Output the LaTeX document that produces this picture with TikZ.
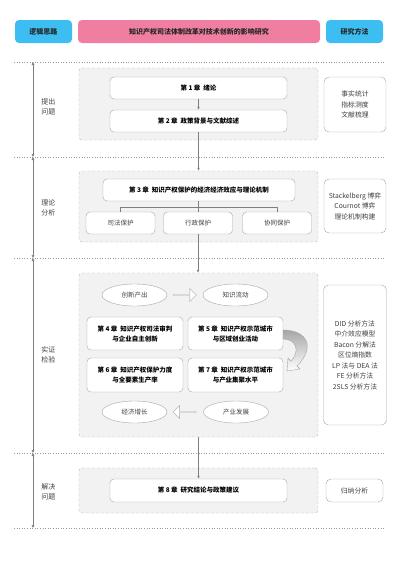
\documentclass[tikz,border=0pt]{standalone}
\usepackage{fontspec}
\setmainfont{Noto Sans CJK SC}
\usetikzlibrary{positioning,arrows.meta,shapes.arrows,shapes.geometric}
\definecolor{headblue}{HTML}{3DBEF2}
\definecolor{headpink}{HTML}{F07EA0}
\definecolor{zonegray}{HTML}{F2F2F2}
\definecolor{edgegray}{HTML}{A6A6A6}
\definecolor{linegray}{HTML}{7F7F7F}
\definecolor{textgray}{HTML}{404040}
\tikzset{
  headbox/.style={rounded corners=4pt,minimum height=23pt,inner sep=0pt,
    font=\fontsize{7}{8}\selectfont\bfseries,text=black!85},
  zone/.style={draw=edgegray!80,densely dashed,fill=zonegray,rounded corners=3pt,inner sep=0pt},
  chapbox/.style={draw=edgegray,fill=white,rounded corners=4pt,inner sep=0pt,align=center,
    font=\fontsize{6.5}{10}\selectfont\bfseries},
  subbox/.style={draw=edgegray,fill=white,rounded corners=4pt,inner sep=0pt,
    minimum width=69pt,minimum height=22pt,font=\fontsize{6.5}{8}\selectfont,text=textgray},
  methodbox/.style={draw=edgegray,fill=white,rounded corners=5pt,inner sep=0pt,align=center,
    font=\fontsize{6.8}{10.5}\selectfont,text=textgray},
  oval/.style={ellipse,draw=edgegray,fill=white,inner sep=0pt,minimum width=65pt,
    minimum height=22pt,font=\fontsize{6.5}{8}\selectfont,text=textgray},
  hollow/.style={single arrow,draw=edgegray,fill=white,inner sep=0pt,minimum height=23pt,
    minimum width=13pt,single arrow head extend=2.5pt},
  stagelabel/.style={align=center,font=\fontsize{7}{10}\selectfont,text=textgray},
  link/.style={draw=linegray,line width=0.5pt,-{Latex[length=3pt,width=2.5pt]}},
  plain/.style={draw=linegray,line width=0.5pt},
  dimarrow/.style={draw=linegray,line width=0.5pt,{Latex[length=3pt,width=3pt]}-{Latex[length=3pt,width=3pt]}},
  divider/.style={draw=linegray!80,dotted,line width=0.6pt}
}
\begin{document}
\begin{tikzpicture}[x=1pt,y=-1pt]
\useasboundingbox (0,0) rectangle (400,566);
% header
\node[headbox,fill=headblue,minimum width=57pt] (logic) at (43.5,31.5) {逻辑思路};
\node[headbox,fill=headpink,minimum width=242pt] (title) at (199,31.5) {知识产权司法体制改革对技术创新的影响研究};
\node[headbox,fill=headblue,minimum width=57pt] (method) at (354.5,31.5) {研究方法};
% dividers
\foreach \yy in {62,157,258,453,528}
  \draw[divider] (14,\yy) -- (385,\yy);
\coordinate (d0) at (33,62);
\coordinate (d1) at (33,157);
\coordinate (d2) at (33,258);
\coordinate (d3) at (33,453);
\coordinate (d4) at (33,528);
\draw[dimarrow] (d0) -- (d1);
\draw[dimarrow] (d1) -- (d2);
\draw[dimarrow] (d2) -- (d3);
\draw[dimarrow] (d3) -- (d4);
% stage labels
\node[stagelabel] (s1) at (48.5,107) {提出\\问题};
\node[stagelabel] (s2) at (48.5,208) {理论\\分析};
\node[stagelabel] (s3) at (48.5,355) {实证\\检验};
\node[stagelabel] (s4) at (48.5,492) {解决\\问题};
% zones
\node[zone,minimum width=239pt,minimum height=72pt] (zone1) at (198.5,104) {};
\node[zone,minimum width=239pt,minimum height=71pt] (zone2) at (198.5,206.5) {};
\node[zone,minimum width=239pt,minimum height=164pt] (zone3) at (198.5,355) {};
\node[zone,minimum width=239pt,minimum height=45pt] (zone4) at (198.5,490.5) {};
% stage 1
\node[chapbox,minimum width=177pt,minimum height=22pt] (ch1) at (198.5,88) {第 1 章\ \ 绪论};
\node[chapbox,minimum width=177pt,minimum height=22pt] (ch2) at (198.5,121) {第 2 章\ \ 政策背景与文献综述};
\node[methodbox,minimum width=62pt,minimum height=55pt] (m1) at (355,104.5) {事实统计\\指标测度\\文献梳理};
\draw[link] (ch1) -- (ch2);
% stage 2
\node[chapbox,minimum width=192pt,minimum height=22pt] (ch3) at (199,190) {第 3 章\ \ 知识产权保护的经济经济效应与理论机制};
\node[subbox] (sifa) at (120.5,223) {司法保护};
\node[subbox] (xingzheng) at (198,223) {行政保护};
\node[subbox] (xietong) at (277,223) {协同保护};
\node[methodbox,minimum width=62pt,minimum height=54pt] (m2) at (355,206) {Stackelberg 博弈\\Cournot 博弈\\理论机制构建};
\draw[link] (ch2) -- (zone2.north -| ch2.south);
\draw[plain] (ch3.south -| xingzheng.north) -- (xingzheng.north);
\draw[plain] (sifa.north) -- ++(0,-5) -| (xietong.north);
% stage 3
\node[oval] (output) at (134.5,295) {创新产出};
\node[oval] (flow) at (235.5,295) {知识流动};
\node[hollow,right=6pt of output] (go1) {};
\node[chapbox,minimum width=96pt,minimum height=33pt] (ch4) at (135,333.5) {第 4 章\ \ 知识产权司法审判\\与企业自主创新};
\node[chapbox,minimum width=95pt,minimum height=33pt] (ch5) at (235.5,333.5) {第 5 章\ \ 知识产权示范城市\\与区域创业活动};
\node[chapbox,minimum width=96pt,minimum height=34pt] (ch6) at (135,375) {第 6 章\ \ 知识产权保护力度\\与全要素生产率};
\node[chapbox,minimum width=95pt,minimum height=34pt] (ch7) at (235.5,375) {第 7 章\ \ 知识产权示范城市\\与产业集聚水平};
\node[oval] (growth) at (134.5,412) {经济增长};
\node[oval] (industry) at (236,412) {产业发展};
\node[hollow,shape border rotate=180,left=7pt of industry] (go2) {};
\node[methodbox,minimum width=63pt,minimum height=140pt] (m3) at (355,355) {DID 分析方法\\中介效应模型\\Bacon 分解法\\区位熵指数\\LP 法与 DEA 法\\FE 分析方法\\2SLS 分析方法};
\draw[link] (xingzheng) -- (zone3.north -| xingzheng.south);
% curved block arrow from ch5 to ch7
\draw[draw=edgegray,line width=0.4pt,top color=gray!70,bottom color=white]
  (283,330) .. controls (307,330) and (316,347) .. (297,366)
  -- (300,369) -- (287,371) -- (288,358) -- (291,361)
  .. controls (300,352) and (297,339) .. (283,339) -- cycle;
% stage 4
\node[chapbox,minimum width=177pt,minimum height=23pt] (ch8) at (198.5,490.5) {第 8 章\ \ 研究结论与政策建议};
\node[methodbox,minimum width=57pt,minimum height=23pt] (m4) at (354.5,490.5) {归纳分析};
\draw[link] (zone3.south -| ch8.north) -- (ch8);
\end{tikzpicture}
\end{document}
